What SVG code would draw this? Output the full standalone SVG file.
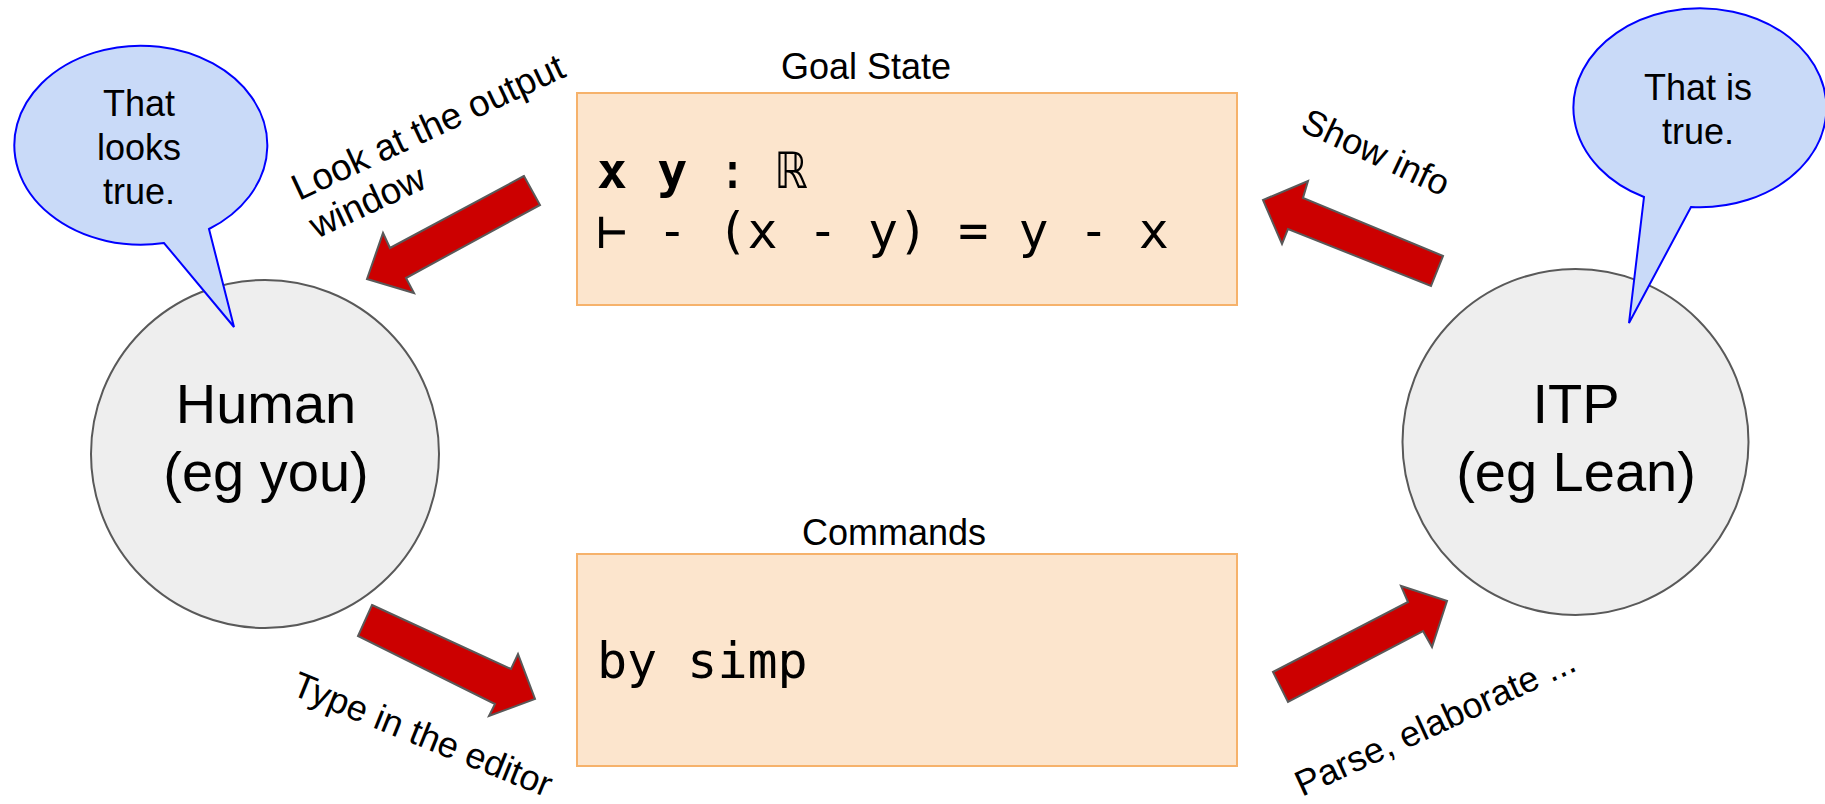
<svg xmlns="http://www.w3.org/2000/svg" width="1825" height="804" viewBox="0 0 1825 804">
<style>
.sans{font-family:"Liberation Sans",Arial,sans-serif;fill:#000}
.mono{font-family:"DejaVu Sans Mono","Liberation Mono",monospace;fill:#000}
.bubble{fill:#c9daf8;stroke:#0000ff;stroke-width:2;stroke-linejoin:miter}
.actor{fill:#eeeeee;stroke:#595959;stroke-width:2}
.panel{fill:#fce5cd;stroke:#f6b26b;stroke-width:2}
.arrow{fill:#cc0000;stroke:#595959;stroke-width:2;stroke-linejoin:miter}
</style>
<rect width="1825" height="804" fill="#ffffff"/>

<g id="human">
  <circle class="actor" cx="265" cy="454" r="174"/>
  <text class="sans" font-size="56" text-anchor="middle" x="266" y="423">Human</text>
  <text class="sans" font-size="56" text-anchor="middle" x="266" y="491">(eg you)</text>
</g>

<g id="itp">
  <circle class="actor" cx="1575.5" cy="442" r="173"/>
  <text class="sans" font-size="56" text-anchor="middle" x="1576" y="423">ITP</text>
  <text class="sans" font-size="56" text-anchor="middle" x="1576" y="491">(eg Lean)</text>
</g>

<g id="human-bubble">
  <path class="bubble" d="M 209 229 A 126.5 99.5 0 1 0 164 243 L 234 327 Z"/>
  <text class="sans" font-size="36" text-anchor="middle" x="139" y="116">That</text>
  <text class="sans" font-size="36" text-anchor="middle" x="139" y="160">looks</text>
  <text class="sans" font-size="36" text-anchor="middle" x="139" y="204">true.</text>
</g>

<g id="itp-bubble">
  <path class="bubble" d="M 1691 207 A 126.5 99.5 0 1 0 1644 197 L 1629 323 Z"/>
  <text class="sans" font-size="36" text-anchor="middle" x="1698" y="100">That is</text>
  <text class="sans" font-size="36" text-anchor="middle" x="1698" y="144">true.</text>
</g>

<g id="goal-state">
  <text class="sans" font-size="36" text-anchor="middle" x="866" y="79">Goal State</text>
  <rect class="panel" x="577" y="93" width="660" height="212"/>
  <text class="mono" font-size="50" x="597" y="188"><tspan font-weight="bold">x y</tspan> : ℝ</text>
  <text class="mono" font-size="50" x="597" y="248">⊢ - (x - y) = y - x</text>
</g>

<g id="commands">
  <text class="sans" font-size="36" text-anchor="middle" x="894" y="545">Commands</text>
  <rect class="panel" x="577" y="554" width="660" height="212"/>
  <text class="mono" font-size="50" x="597" y="678">by simp</text>
</g>

<g id="connectors">
  <polygon class="arrow" points="524,176 390,248 383,233 367,279 414,293 406,278 540,205"/>
  <text class="sans" font-size="37" transform="translate(299,201) rotate(-25)"><tspan x="0" y="0">Look at the output</tspan><tspan x="0" y="42">window</tspan></text>

  <polygon class="arrow" points="1443,256 1303,198 1308,181 1263,200 1282,244 1288,229 1431,286"/>
  <text class="sans" font-size="36" transform="translate(1299,130) rotate(25)">Show info</text>

  <polygon class="arrow" points="372,605 511,669 518,654 535,699 489,716 495,704 358,636"/>
  <text class="sans" font-size="36" transform="translate(290,694) rotate(22)">Type in the editor</text>

  <polygon class="arrow" points="1273,672 1408,602 1401,586 1447,601 1432,647 1423,631 1288,702"/>
  <text class="sans" font-size="36" transform="translate(1302,797) rotate(-24.7)">Parse, elaborate ...</text>
</g>
</svg>
